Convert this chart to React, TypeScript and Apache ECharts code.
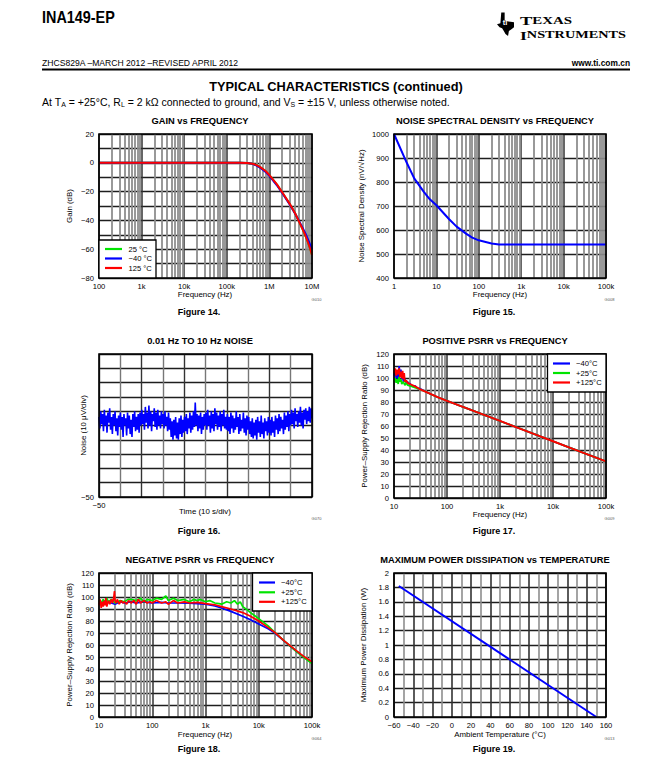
import React, { useEffect, useRef } from "react";
import * as echarts from "echarts";

const FONT = '"Liberation Sans", Arial, Helvetica, sans-serif';
const BLUE = "#0000ff";
const GREEN = "#00e400";
const RED = "#ff0000";

// ---------- Figure 14: Gain vs Frequency ----------
const gainFreq = [100, 1e3, 1e4, 1e5, 2e5, 3e5, 4e5, 5e5, 6e5, 8e5, 1e6, 1.5e6, 2e6, 3e6, 4e6, 5e6, 6e6, 7e6, 8e6, 9e6, 1e7];
const gain25 = [0, 0, 0, 0, 0, -0.1, -0.6, -1.7, -2.9, -5.6, -8.6, -15.2, -20.6, -28.6, -35, -41, -46, -50.5, -55, -59.5, -63.8];
const gainM40 = [0, 0, 0, 0, 0, -0.1, -0.7, -2, -3.3, -6.1, -9.1, -15.6, -21, -29, -35.2, -40.6, -45, -49, -53, -56.6, -60];
const gain125 = [0, 0, 0, 0, 0, -0.1, -0.6, -1.6, -2.8, -5.5, -8.5, -15, -20.5, -28.5, -35, -41, -46, -50.5, -55, -59.5, -64];

// ---------- Figure 15: Noise spectral density ----------
const nsdFreq = [1, 2, 3, 5, 7, 10, 20, 30, 50, 70, 100, 200, 300, 1000, 1e4, 1e5];
const nsdValue = [1000, 880, 815, 760, 728, 703, 645, 614, 585, 568, 557, 544, 540, 540, 540, 540];

// ---------- Figure 16: 0.01 Hz to 10 Hz noise (10 s/div, 10 uV/div) ----------
const noiseStart = -50;
const noiseSpan = 100;
const noiseTrace = [
  6, -2, 10, 1, 8, -4, 11, 0, 7, -5, 9, 2, 12, -3, 6, -6, 8, 0, 10, -4, 5, -7, 7, -1,
  9, -3, 6, -8, 8, 0, 5, -7, 9, -2, 7, -6, 4, -8, 8, -1, 10, -4, 6, -3, 8, -5, 9, 0,
  11, 1, 8, -3, 13, 2, 9, -2, 14, 0, 10, -4, 8, 3, 12, -1, 9, -3, 11, 0, 7, -2, 10, 1,
  8, -2, 10, 0, 6, -4, 9, -3, 5, -8, 3, -10, 4, -7, 6, -9, 2, -10, 5, -6, 7, -8, 4, -5,
  6, -4, 8, -6, 5, -2, 9, -5, 7, -3, 10, -1, 16, 0, 8, -4, 7, -2, 9, -6, 6, -3, 8, 0,
  9, -3, 11, 0, 7, -5, 10, -2, 8, -4, 12, 1, 9, -3, 7, -1, 10, -4, 8, 0, 11, -2, 6, -3,
  8, -4, 6, -6, 9, -2, 7, -5, 5, -3, 10, -1, 6, -6, 8, -4, 4, -2, 9, -5, 5, -7, 7, -3,
  6, -6, 3, -8, 5, -9, 2, -7, 4, -10, 6, -5, 3, -8, 7, -6, 2, -9, 5, -4, 3, -7, 6, -5,
  4, -7, 6, -5, 3, -8, 7, -3, 5, -6, 8, -4, 6, -2, 4, -6, 9, -3, 7, -1, 10, -4, 8, 0,
  11, 1, 9, -2, 12, 3, 8, -1, 10, 2, 13, 0, 9, -2, 11, 4, 12, 1, 10, 3, 13, 2, 12, 5,
];

// ---------- Figure 17: Positive PSRR ----------
const posFreqM40 = [10, 10.5, 11, 11.5, 12, 12.5, 13, 13.5, 14, 14.5, 15, 16, 17, 18, 19, 20, 22, 25, 28, 30];
const posM40 = [102, 106, 100, 104, 99, 110, 101, 107, 99, 103, 97, 99, 96, 97, 95, 95.5, 93, 93.5, 91, 91.5];
const posFreq25 = [10, 10.5, 11, 11.5, 12, 12.5, 13, 13.5, 14, 15, 16, 17, 18, 20, 25, 30];
const pos25 = [97, 100, 96, 99, 95, 101, 97, 99, 95, 97, 94, 96, 94, 93.5, 92, 90.8];
const posFreq125 = [10, 10.5, 11, 11.5, 12, 12.5, 13, 13.5, 14, 14.5, 15, 15.5, 16, 17, 18, 19, 20, 25, 30];
const pos125 = [104, 108, 102, 107, 103, 108, 101, 105, 100, 106, 99, 104, 97, 98, 96, 95.5, 95, 93, 91];
const posTailFreq = [40, 50, 70, 100, 200, 500, 1000, 2000, 5000, 10000, 20000, 50000, 100000];
const posTail = [88.5, 86.5, 83.6, 81, 75.9, 69.3, 64.2, 59.1, 52.4, 47.3, 42.2, 35.5, 30.5];

// ---------- Figure 18: Negative PSRR ----------
const negFreqM40 = [10, 11, 12, 13, 14, 15, 17, 20, 25, 30, 40, 50, 70, 100, 150, 200, 300, 500, 700, 1000, 1500, 2000, 3000, 5000, 7000, 10000, 15000, 20000, 30000, 50000, 70000, 100000];
const negM40 = [95, 94, 96, 95, 94, 96, 95, 94, 96, 95, 96, 95, 96, 95, 95.5, 95, 95, 94.8, 94.5, 94, 92.5, 90.8, 88, 84, 81, 77.5, 73.5, 70, 63.2, 55, 50, 45.2];
const negFreq25 = [10, 11, 12, 13, 14, 15, 17, 20, 25, 30, 35, 40, 50, 60, 70, 80, 100, 120, 150, 170, 180, 200, 250, 300, 400, 500, 600, 700, 800, 1000, 1200, 1500, 1800, 2000, 2500, 3000, 3500, 4000, 4500, 5000, 6000, 7000, 10000, 15000, 20000, 30000, 50000, 70000, 100000];
const neg25 = [97, 95, 98, 96, 99, 96, 98, 95, 97, 96, 98, 98, 97, 99, 96, 98, 97, 99, 98, 100, 101, 97, 99, 97, 98, 96, 98, 97, 98, 96, 97, 95, 94.5, 94, 96, 95, 97, 94, 96, 92, 89.5, 87, 82, 76, 70.5, 63.5, 55, 49.8, 44.5];
const negFreq125 = [10, 10.5, 11, 11.5, 12, 12.5, 13, 13.5, 14, 15, 16, 17, 18, 19, 19.5, 20, 21, 22, 24, 26, 28, 30, 33, 36, 40, 45, 50, 55, 60, 70, 80, 90, 100, 120, 150, 180, 200, 250, 300, 400, 500, 700, 1000, 1500, 2000, 3000, 5000, 7000, 10000, 15000, 20000, 30000, 50000, 70000, 100000];
const neg125 = [93, 98, 91, 96, 92, 97, 93, 99, 92, 97, 94, 98, 95, 100, 105, 97, 95, 98, 94, 97, 95, 96, 94, 97, 95, 97, 94, 98, 95, 97, 95, 96, 95, 97, 95, 96, 94, 97, 95, 96, 95, 95.5, 94.5, 93.5, 92, 90, 87, 84, 80, 74.5, 70.5, 63.5, 55.5, 50.5, 46];

// ---------- Figure 19: Max power dissipation ----------
const powerTemp = [-55, 150];
const powerW = [1.82, 0];

// ---------- layout ----------
const GRIDS = [
  { left: 99, top: 134, width: 213, height: 144 },
  { left: 394, top: 134, width: 212, height: 144 },
  { left: 99, top: 354, width: 213, height: 143 },
  { left: 394, top: 354, width: 212, height: 144 },
  { left: 99, top: 573, width: 213, height: 144 },
  { left: 394, top: 573, width: 212, height: 144 },
];

echarts.graphic.registerShape(
  "tiTexas",
  echarts.graphic.extendPath(
    "M5 0 L9 0 L9 8 L12 9 L16 9.5 L20 10 L20 15 L17 17 L14 19 L13 24 L10 22 L8 19 L6 16 L3 15 L0 12 L4 11 Z",
    {}
  )
);

const minus = (v: number) => (v < 0 ? "\u2212" + Math.abs(v) : String(v));
const LOG_NAMES: Record<number, string> = { 0: "1", 1: "10", 2: "100", 3: "1k", 4: "10k", 5: "100k", 6: "1M", 7: "10M" };
const logLabel = (v: number) => LOG_NAMES[Math.round(Math.log10(v))] ?? "";

function minorLog(fromExp: number, toExp: number) {
  const out: number[] = [];
  for (let e = fromExp; e < toExp; e++) for (let k = 2; k <= 9; k++) out.push(k * Math.pow(10, e));
  return out;
}

const tickLabel = { fontFamily: FONT, fontSize: 7.6, color: "#000" };
const HCOLOR = "#1e1e1e";
const HWIDTH = 1.3;

function logX(i: number, min: number, max: number) {
  return {
    type: "log", logBase: 10, gridIndex: i, min, max,
    axisLine: { show: false }, axisTick: { show: false },
    splitLine: { show: true, lineStyle: { color: "#333", width: 1.5 } },
    axisLabel: { ...tickLabel, margin: 4, formatter: logLabel, showMinLabel: true, showMaxLabel: true },
  };
}
function valAxis(i: number, min: number, max: number, interval: number, formatter: any, margin: number, colors: any = HCOLOR, width = HWIDTH) {
  return {
    type: "value", gridIndex: i, min, max, interval,
    axisLine: { show: false }, axisTick: { show: false },
    splitLine: { show: true, lineStyle: { color: colors, width } },
    axisLabel: { ...tickLabel, margin, formatter, showMinLabel: true, showMaxLabel: true },
  };
}

const pairs = (xs: number[], ys: number[]) => xs.map((x, k) => [x, ys[k]]);
function lineSeries(i: number, data: number[][], color: string, width: number, z = 3) {
  return {
    type: "line", xAxisIndex: i, yAxisIndex: i, data, showSymbol: false, symbol: "none",
    silent: true, z, lineStyle: { color, width }, itemStyle: { color }, emphasis: { disabled: true },
  };
}
function minorLines(i: number, values: number[]) {
  return {
    type: "line", xAxisIndex: i, yAxisIndex: i, data: [], silent: true, z: 1,
    markLine: {
      silent: true, z: 1, symbol: ["none", "none"], label: { show: false },
      lineStyle: { color: "#8e8e8e", width: 1.8, type: "solid" },
      emphasis: { disabled: true }, animation: false,
      data: values.map((v) => ({ xAxis: v })),
    },
  };
}

function txt(text: string, x: number, y: number, size: number, o: any = {}) {
  return {
    type: "text", x, y, z: 20, silent: true, rotation: o.rot ?? 0,
    scaleX: o.scaleX ?? 1,
    style: {
      text, fontFamily: o.font ?? FONT, fontSize: size, fontWeight: o.bold ? "bold" : "normal",
      fill: o.color ?? "#000", align: o.align ?? "center", verticalAlign: "middle", rich: o.rich,
    },
  };
}

function legend(x: number, y: number, w: number, h: number, lx1: number, lx2: number, tx: number, rows: [string, string, number][]) {
  const els: any[] = [
    { type: "rect", z: 15, silent: true, shape: { x, y, width: w, height: h }, style: { fill: "#fff", stroke: "#000", lineWidth: 1.3 } },
  ];
  rows.forEach(([label, color, ry]) => {
    els.push({ type: "line", z: 16, silent: true, shape: { x1: lx1, y1: ry, x2: lx2, y2: ry }, style: { stroke: color, lineWidth: 2.2 } });
    els.push({ ...txt(label, tx, ry, 7.6, { align: "left" }), z: 16 });
  });
  return els;
}

export default function App() {
  const ref = useRef<HTMLDivElement>(null);
  useEffect(() => {
    if (!ref.current) return;
    const chart = echarts.init(ref.current, null, { renderer: "svg" });
    const noiseData = noiseTrace.map((v, k) => [noiseStart + (k * noiseSpan) / (noiseTrace.length - 1), v]);

    const borders = GRIDS.map((g) => ({
      type: "rect", z: 12, silent: true,
      shape: { x: g.left, y: g.top, width: g.width, height: g.height },
      style: { fill: "none", stroke: "#000", lineWidth: 1.6 },
    }));

    const gtitles = [
      txt("GAIN vs FREQUENCY", 200, 120.5, 9.3, { bold: true }),
      txt("NOISE SPECTRAL DENSITY vs FREQUENCY", 495, 120.5, 9.3, { bold: true }),
      txt("0.01 Hz TO 10 Hz NOISE", 200, 340.5, 9.3, { bold: true }),
      txt("POSITIVE PSRR vs FREQUENCY", 495, 340.5, 9.3, { bold: true }),
      txt("NEGATIVE PSRR vs FREQUENCY", 200, 559.5, 9.3, { bold: true }),
      txt("MAXIMUM POWER DISSIPATION vs TEMPERATURE", 495, 559.5, 9.3, { bold: true }),
    ];
    const figs = [
      txt("Figure 14.", 199, 312, 9, { bold: true }),
      txt("Figure 15.", 494, 312, 9, { bold: true }),
      txt("Figure 16.", 199, 531, 9, { bold: true }),
      txt("Figure 17.", 494, 531, 9, { bold: true }),
      txt("Figure 18.", 199, 749, 9, { bold: true }),
      txt("Figure 19.", 494, 749, 9, { bold: true }),
    ];
    const R = Math.PI / 2;
    const names = [
      txt("Frequency (Hz)", 205, 294.5, 7.9),
      txt("Gain (dB)", 69.5, 206, 7.9, { rot: R }),
      txt("Frequency (Hz)", 500, 294.5, 7.9),
      txt("Noise Spectral Density (nV/\u221AHz)", 361, 206, 7.9, { rot: R }),
      txt("Time (10 s/div)", 205, 511.5, 7.9),
      txt("Noise (10 \u03BCV/div)", 83.5, 425.5, 7.9, { rot: R }),
      txt("Frequency (Hz)", 500, 514, 7.9),
      txt("Power\u2013Supply Rejection Ratio (dB)", 364, 426, 7.9, { rot: R }),
      txt("Frequency (Hz)", 205, 734, 7.9),
      txt("Power\u2013Supply Rejection Ratio (dB)", 69.5, 645, 7.9, { rot: R }),
      txt("Ambient Temperature (\u00B0C)", 500, 734, 7.9),
      txt("Maximum Power Dissipation (W)", 363.5, 645, 7.9, { rot: R }),
    ];
    const codes = [
      txt("G010", 316.5, 299, 4, { color: "#555" }),
      txt("G008", 609.5, 299, 4, { color: "#555" }),
      txt("G070", 316.5, 518, 4, { color: "#555" }),
      txt("G009", 609.5, 518, 4, { color: "#555" }),
      txt("G064", 316.5, 738, 4, { color: "#555" }),
      txt("G013", 609.5, 738, 4, { color: "#555" }),
    ];
    const serif = '"Liberation Serif", serif';
    const header = [
      txt("INA149-EP", 42, 17, 16, { bold: true, align: "left", scaleX: 0.9 }),
      { type: "tiTexas", x: 497, y: 12.5, scaleX: 0.85, scaleY: 0.98, z: 20, silent: true, style: { fill: "#000" } },
      txt("ti", 505, 22, 7.5, { bold: true, color: "#fff", align: "center" }),
      {
        ...txt("{b|T}{s|EXAS}", 520, 21, 10, {
          align: "left", scaleX: 1.42,
          rich: { b: { fontSize: 13, fontFamily: serif, fontWeight: "bold", fill: "#000" }, s: { fontSize: 10.5, fontFamily: serif, fontWeight: "bold", fill: "#000" } },
        }),
      },
      {
        ...txt("{b|I}{s|NSTRUMENTS}", 520, 35, 10, {
          align: "left", scaleX: 1.36,
          rich: { b: { fontSize: 13, fontFamily: serif, fontWeight: "bold", fill: "#000" }, s: { fontSize: 10.5, fontFamily: serif, fontWeight: "bold", fill: "#000" } },
        }),
      },
      txt("ZHCS829A \u2013MARCH 2012 \u2013REVISED APRIL 2012", 42, 63, 8.6, { align: "left" }),
      txt("www.ti.com.cn", 630, 63, 8.4, { bold: true, align: "right" }),
      { type: "line", z: 20, silent: true, shape: { x1: 42, y1: 69.5, x2: 630, y2: 69.5 }, style: { stroke: "#000", lineWidth: 2 } },
      txt("TYPICAL CHARACTERISTICS (continued)", 336, 86, 12.8, { bold: true }),
      txt("{n|At T}{s|A}{n| = +25\u00B0C, R}{s|L}{n| = 2 k\u03A9 connected to ground, and V}{s|S}{n| = \u00B115 V, unless otherwise noted.}", 42, 101.5, 10.5, {
        align: "left",
        rich: {
          n: { fontSize: 10.5, fontFamily: FONT, fill: "#000", lineHeight: 13 },
          s: { fontSize: 7, fontFamily: FONT, fill: "#000", lineHeight: 13, verticalAlign: "bottom" },
        },
      }),
    ];

    const legends = [
      ...legend(99, 240, 57, 38, 105, 122, 128.5, [["25 \u00B0C", GREEN, 249], ["\u221240 \u00B0C", BLUE, 258.5], ["125 \u00B0C", RED, 268]]),
      ...legend(547.5, 354, 58.5, 38, 553, 570, 576, [["\u221240\u00B0C", BLUE, 363.5], ["+25\u00B0C", GREEN, 373], ["+125\u00B0C", RED, 382.5]]),
      ...legend(252.5, 573, 59.5, 38, 259, 275, 281, [["\u221240\u00B0C", BLUE, 582.5], ["+25\u00B0C", GREEN, 592.3], ["+125\u00B0C", RED, 601.8]]),
    ];

    const option: any = {
      animation: false,
      backgroundColor: "#ffffff",
      textStyle: { fontFamily: FONT },
      grid: GRIDS.map((g) => ({ ...g, show: false, containLabel: false })),
      xAxis: [
        logX(0, 100, 1e7),
        logX(1, 1, 1e5),
        valAxis(2, -50, 50, 10, (v: number) => (v === -50 ? minus(v) : ""), 4, ["#333", "#777"], 1.4),
        logX(3, 10, 1e5),
        logX(4, 10, 1e5),
        valAxis(5, -60, 160, 10, (v: number) => (v % 20 === 0 ? minus(v) : ""), 4, ["#333", "#8e8e8e"], 1.6),
      ],
      yAxis: [
        valAxis(0, -80, 20, 10, (v: number) => (v % 20 === 0 ? minus(v) : ""), 5),
        valAxis(1, 400, 1000, 100, (v: number) => String(v), 5),
        valAxis(2, -50, 50, 10, (v: number) => (v === -50 ? minus(v) : ""), 5),
        valAxis(3, 0, 120, 10, (v: number) => String(v), 5),
        valAxis(4, 0, 120, 10, (v: number) => String(v), 5),
        valAxis(5, 0, 2, 0.2, (v: number) => String(Math.round(v * 10) / 10), 5),
      ],
      series: [
        minorLines(0, minorLog(2, 7)),
        minorLines(1, minorLog(0, 5)),
        minorLines(3, minorLog(1, 5)),
        minorLines(4, minorLog(1, 5)),
        lineSeries(0, pairs(gainFreq, gain25), GREEN, 2),
        lineSeries(0, pairs(gainFreq, gainM40), BLUE, 2),
        lineSeries(0, pairs(gainFreq, gain125), RED, 2),
        lineSeries(1, pairs(nsdFreq, nsdValue), BLUE, 2),
        lineSeries(2, noiseData, BLUE, 1.6),
        lineSeries(3, pairs(posFreqM40.concat(posTailFreq), posM40.concat(posTail)), BLUE, 1.7),
        lineSeries(3, pairs(posFreq25.concat(posTailFreq), pos25.concat(posTail)), GREEN, 1.7),
        lineSeries(3, pairs(posFreq125.concat(posTailFreq), pos125.concat(posTail)), RED, 1.9),
        lineSeries(4, pairs(negFreqM40, negM40), BLUE, 1.7),
        lineSeries(4, pairs(negFreq25, neg25), GREEN, 1.7),
        lineSeries(4, pairs(negFreq125, neg125), RED, 1.7),
        lineSeries(5, pairs(powerTemp, powerW), BLUE, 2),
      ],
      graphic: [...borders, ...gtitles, ...figs, ...names, ...codes, ...header, ...legends],
    };
    chart.setOption(option);
    return () => chart.dispose();
  }, []);

  return (
    <div
      ref={ref}
      style={{ position: "absolute", left: 0, top: 0, width: 672, height: 776, background: "#fff" }}
    />
  );
}
